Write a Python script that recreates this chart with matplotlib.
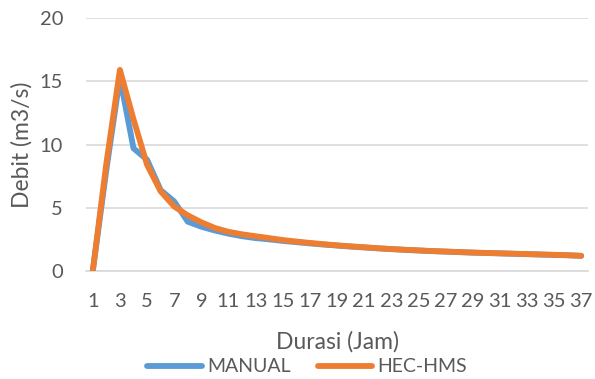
import matplotlib
matplotlib.use("Agg")
import matplotlib.pyplot as plt

plt.rcParams['font.family'] = ['Lato', 'DejaVu Sans']

durasi = list(range(1, 38))
manual = [0, 8.0, 15.3, 9.7, 8.8, 6.4, 5.5, 3.9, 3.5, 3.2, 2.95, 2.75, 2.6, 2.5, 2.38,
          2.28, 2.18, 2.09, 2.01, 1.93, 1.86, 1.79, 1.73, 1.67, 1.62, 1.57, 1.53, 1.49,
          1.45, 1.42, 1.39, 1.36, 1.33, 1.3, 1.27, 1.24, 1.2]
hechms = [0, 8.5, 15.9, 12.0, 8.4, 6.3, 5.1, 4.4, 3.85, 3.4, 3.1, 2.9, 2.75, 2.6, 2.45,
          2.33, 2.22, 2.12, 2.03, 1.95, 1.88, 1.8, 1.74, 1.68, 1.63, 1.58, 1.54, 1.5,
          1.46, 1.43, 1.4, 1.37, 1.34, 1.31, 1.28, 1.25, 1.2]
yticks = [0, 5, 10, 15, 20]

W, H = 595, 379
fig = plt.figure(figsize=(W/100, H/100), dpi=100)
ax = fig.add_axes([86/W, 1-271/H, (588-86)/W, (271-18)/H])

ax.plot(durasi, manual, color='#5B9BD5', lw=4.2, label='MANUAL', solid_capstyle='round', solid_joinstyle='round', zorder=3)
ax.plot(durasi, hechms, color='#ED7D31', lw=4.2, label='HEC-HMS', solid_capstyle='round', solid_joinstyle='round', zorder=4)

ax.set_xlim(0.5, 37.5)
ax.set_ylim(0, 20)
ax.set_yticks(yticks)
ax.set_xticks(durasi[::2])
ax.set_xticklabels([str(d) for d in durasi[::2]])
ax.grid(axis='y', color='#d9d9d9', lw=1.2)
ax.set_axisbelow(True)
for s in ['top', 'right', 'left']:
    ax.spines[s].set_visible(False)
ax.spines['bottom'].set_color('#d9d9d9')
ax.spines['bottom'].set_linewidth(1.2)
ax.tick_params(axis='both', length=0, labelsize=14.5, colors='#595959')
ax.tick_params(axis='x', pad=16)
ax.tick_params(axis='y', pad=16.5)

fig.text(337/W, 1-342/H, 'Durasi (Jam)', fontsize=16.5, color='#595959', ha='center', va='center')
fig.text(22/W, 1-145/H, 'Debit (m3/s)', fontsize=16.5, color='#595959', ha='center', va='center', rotation=90)

leg = fig.legend(loc='center', bbox_to_anchor=(307/W, 1-367/H), ncol=2, frameon=False,
                 fontsize=14, labelcolor='#595959', handlelength=2.8, columnspacing=1.4,
                 handletextpad=0.25, borderpad=0, borderaxespad=0)
for ln in leg.get_lines():
    ln.set_solid_capstyle('round')

fig.savefig('out.png', dpi=100)
